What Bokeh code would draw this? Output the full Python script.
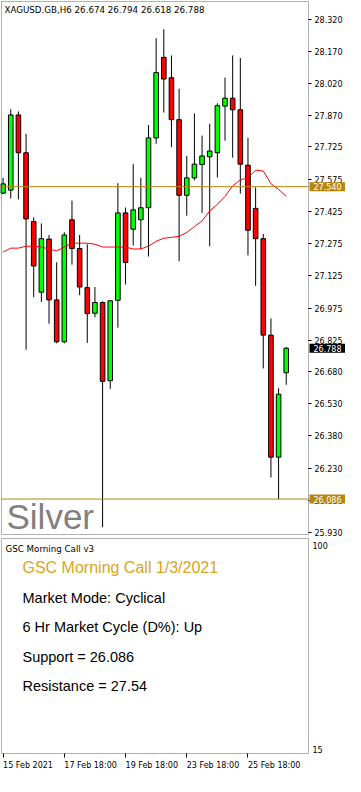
from bokeh.plotting import figure
from bokeh.models import (ColumnDataSource, Range1d, FixedTicker, PrintfTickFormatter,
                          Label, BoxAnnotation)
from bokeh.layouts import column
from bokeh.embed import file_html
from bokeh.resources import INLINE

# ---------------- data ----------------
symbol = "XAGUSD.GB,H6"
times = [
    "2021-02-15 18:00",
    "2021-02-16 00:00", "2021-02-16 06:00", "2021-02-16 12:00", "2021-02-16 18:00",
    "2021-02-17 00:00", "2021-02-17 06:00", "2021-02-17 12:00", "2021-02-17 18:00",
    "2021-02-18 00:00", "2021-02-18 06:00", "2021-02-18 12:00", "2021-02-18 18:00",
    "2021-02-19 00:00", "2021-02-19 06:00", "2021-02-19 12:00", "2021-02-19 18:00",
    "2021-02-22 00:00", "2021-02-22 06:00", "2021-02-22 12:00", "2021-02-22 18:00",
    "2021-02-23 00:00", "2021-02-23 06:00", "2021-02-23 12:00", "2021-02-23 18:00",
    "2021-02-24 00:00", "2021-02-24 06:00", "2021-02-24 12:00", "2021-02-24 18:00",
    "2021-02-25 00:00", "2021-02-25 06:00", "2021-02-25 12:00", "2021-02-25 18:00",
    "2021-02-26 00:00", "2021-02-26 06:00", "2021-02-26 12:00", "2021-02-26 18:00",
    "2021-03-01 00:00",
]
opens = [27.510, 27.524, 27.874, 27.698, 27.378, 27.049, 27.296, 27.013, 26.818, 27.386,
         27.252, 27.070, 26.951, 27.001, 26.637, 27.011, 27.418, 27.342, 27.386, 27.442,
         27.767, 28.142, 28.047, 27.852, 27.500, 27.581, 27.643, 27.679, 27.698, 27.915,
         27.952, 27.898, 27.640, 27.439, 27.298, 26.849, 26.281, 26.674]
highs = [27.581, 27.901, 27.890, 27.786, 27.397, 27.369, 27.315, 27.188, 27.328, 27.475,
         27.315, 27.272, 27.073, 27.006, 27.009, 27.556, 27.443, 27.645, 27.581, 27.827,
         28.231, 28.273, 28.151, 27.996, 27.683, 27.881, 27.778, 27.833, 27.928, 28.048,
         28.151, 28.139, 27.768, 27.537, 27.320, 26.927, 26.602, 26.794]
lows = [27.505, 27.485, 27.481, 26.781, 27.025, 27.003, 26.902, 26.811, 26.811, 27.177,
        27.035, 26.813, 26.932, 25.955, 26.599, 26.884, 27.085, 27.266, 27.249, 27.215,
        27.740, 27.885, 27.724, 27.193, 27.405, 27.570, 27.418, 27.263, 27.583, 27.754,
        27.675, 27.508, 27.220, 27.079, 26.694, 26.186, 26.086, 26.618]
closes = [27.553, 27.874, 27.698, 27.390, 27.171, 27.298, 27.013, 26.818, 27.315, 27.252,
          27.073, 26.949, 27.001, 26.634, 27.009, 27.418, 27.187, 27.432, 27.442, 27.767,
          28.071, 28.041, 27.852, 27.500, 27.581, 27.645, 27.683, 27.706, 27.917, 27.952,
          27.898, 27.645, 27.337, 27.298, 26.849, 26.281, 26.574, 26.788]
ma_values = [27.236, 27.254, 27.254, 27.263, 27.263, 27.259, 27.250, 27.241, 27.259, 27.277,
             27.277, 27.277, 27.272, 27.259, 27.259, 27.259, 27.259, 27.250, 27.250, 27.263,
             27.286, 27.300, 27.304, 27.309, 27.327, 27.354, 27.381, 27.427, 27.458, 27.495,
             27.544, 27.572, 27.581, 27.617, 27.613, 27.554, 27.527, 27.495]

price_ticks = [28.320, 28.170, 28.020, 27.870, 27.725, 27.575, 27.425, 27.275, 27.125,
               26.975, 26.825, 26.680, 26.530, 26.380, 26.230, 26.080, 25.930]
support = 26.086
resistance = 27.540
last_price = closes[-1]
date_tick_idx = [0, 8, 16, 24, 32]
date_tick_text = ["15 Feb 2021", "17 Feb 18:00", "19 Feb 18:00", "23 Feb 18:00", "25 Feb 18:00"]
osc_ticks = [15, 100]
indicator_name = "GSC Morning Call v3"
info_title = "GSC Morning Call 1/3/2021"
info_lines = ["Market Mode: Cyclical", "6 Hr Market Cycle (D%): Up",
              "Support = 26.086", "Resistance = 27.54"]
watermark = "Silver"

# ---------------- geometry / styling ----------------
UP = "#00ff00"
DOWN = "#ff0000"
GOLD = "#b8860b"
AXF = "DejaVu Sans"
TXF = "Liberation Sans"

X_LO, X_HI = -0.21, 39.91          # visible candle window (index units)
P_LO, P_HI = 25.921, 28.402        # visible price window
O_LO, O_HI = 13.38, 102.83         # visible indicator window
CW, AXW = 307, 37                  # candle-area width, price-scale strip width (px)
CH1, CH2 = 533, 215                # panel heights (px)
FW = 1 + CW + AXW
FH1 = 1 + CH1 + 3
FH2 = 1 + CH2 + 23

ppx = CW / (X_HI - X_LO)
ppy1 = CH1 / (P_HI - P_LO)
ppy2 = CH2 / (O_HI - O_LO)
xr = Range1d(X_LO - 1 / ppx, X_HI + AXW / ppx)

x = list(range(len(times)))
src = ColumnDataSource(dict(
    x=x, open=opens, high=highs, low=lows, close=closes,
    top=[max(o, c) for o, c in zip(opens, closes)],
    bottom=[min(o, c) for o, c in zip(opens, closes)],
    color=[UP if c >= o else DOWN for o, c in zip(opens, closes)],
))


def style_common(f):
    f.xgrid.grid_line_color = None
    f.ygrid.grid_line_color = None
    f.outline_line_color = None
    f.background_fill_color = "white"
    f.border_fill_color = "white"


# ---------------- main price panel ----------------
p = figure(frame_width=FW, frame_height=FH1, x_range=xr,
           y_range=Range1d(P_LO - 3 / ppy1, P_HI + 1 / ppy1),
           output_backend="svg", toolbar_location=None,
           y_axis_location="right", x_axis_location=None, min_border=0)
style_common(p)

yax = p.yaxis[0]
yax.fixed_location = X_HI
yax.ticker = FixedTicker(ticks=price_ticks)
yax.formatter = PrintfTickFormatter(format="%.3f")
yax.major_tick_out = 3
yax.major_tick_in = 0
yax.minor_tick_out = 0
yax.minor_tick_in = 0
yax.major_tick_line_color = "black"
yax.major_label_standoff = 3
yax.major_label_text_font = AXF
yax.major_label_text_font_size = "8px"
yax.major_label_text_color = "black"
yax.axis_line_color = None

# candles
p.segment(x0="x", y0="low", x1="x", y1="high", source=src, line_color="black", line_width=1)
p.vbar(x="x", width=0.6, top="top", bottom="bottom", source=src,
       fill_color="color", line_color="black", line_width=1)

# moving average
p.line(x=x, y=ma_values, line_color="#ff0000", line_width=1)

# support / resistance lines
p.segment(x0=[X_LO, X_LO], y0=[resistance, support], x1=[X_HI, X_HI], y1=[resistance, support],
          line_color=GOLD, line_width=1)

# panel border
p.add_layout(BoxAnnotation(left=X_LO, right=X_HI, bottom=P_LO, top=P_HI,
                           fill_alpha=0, line_color="black", line_width=1))

# header & watermark
p.add_layout(Label(x=4, y=FH1 - 9, x_units="screen", y_units="screen",
                   text=f"{symbol}  {opens[-1]:.3f} {highs[-1]:.3f} {lows[-1]:.3f} {closes[-1]:.3f}",
                   text_font=AXF, text_font_size="8.7px", text_color="black",
                   text_baseline="middle", text_align="left"))
p.add_layout(Label(x=6, y=2, x_units="screen", y_units="screen", text=watermark,
                   text_font=TXF, text_font_size="35px", text_color="#808080",
                   text_baseline="bottom", text_align="left"))

# price boxes on the price scale
for val, bg in [(resistance, GOLD), (support, GOLD), (last_price, "black")]:
    p.add_layout(Label(x=X_HI, y=val, x_offset=1, x_units="data", y_units="data",
                       text=f"{val:.3f}", text_font=AXF, text_font_size="8px",
                       text_color="white", background_fill_color=bg,
                       text_baseline="middle", text_align="left",
                       padding=dict(left=4, right=4, top=1, bottom=1)))

# ---------------- lower indicator panel ----------------
q = figure(frame_width=FW, frame_height=FH2, x_range=xr,
           y_range=Range1d(O_LO - 23 / ppy2, O_HI + 1 / ppy2),
           output_backend="svg", toolbar_location=None,
           y_axis_location="right", x_axis_location="below", min_border=0)
style_common(q)

qy = q.yaxis[0]
qy.fixed_location = X_HI
qy.ticker = FixedTicker(ticks=osc_ticks)
qy.major_tick_out = 0
qy.major_tick_in = 0
qy.minor_tick_out = 0
qy.minor_tick_in = 0
qy.major_label_standoff = 4
qy.major_label_text_font = AXF
qy.major_label_text_font_size = "8px"
qy.major_label_text_color = "black"
qy.axis_line_color = None

qx = q.xaxis[0]
qx.fixed_location = O_LO
qx.ticker = FixedTicker(ticks=date_tick_idx)
qx.major_label_overrides = {i: "" for i in date_tick_idx}
qx.major_tick_out = 4
qx.major_tick_in = 0
qx.minor_tick_out = 0
qx.minor_tick_in = 0
qx.major_tick_line_color = "black"
qx.axis_line_color = None

q.add_layout(BoxAnnotation(left=X_LO, right=X_HI, bottom=O_LO, top=O_HI,
                           fill_alpha=0, line_color="black", line_width=1))

for idx, txt in zip(date_tick_idx, date_tick_text):
    q.add_layout(Label(x=idx, y=11, x_units="data", y_units="screen", text=txt,
                       text_font=AXF, text_font_size="8px", text_color="black",
                       text_baseline="middle", text_align="left"))

q.add_layout(Label(x=5, y=FH2 - 11, x_units="screen", y_units="screen",
                   text=indicator_name, text_font=AXF, text_font_size="8.7px",
                   text_color="black", text_baseline="middle", text_align="left"))
q.add_layout(Label(x=22, y=FH2 - 30, x_units="screen", y_units="screen",
                   text=info_title, text_font=TXF, text_font_size="16px",
                   text_color="#daa520", text_baseline="middle", text_align="left"))
for k, line in enumerate(info_lines):
    q.add_layout(Label(x=22, y=FH2 - 60 - 29.5 * k, x_units="screen", y_units="screen",
                       text=line, text_font=TXF, text_font_size="14.5px",
                       text_color="black", text_baseline="middle", text_align="left"))

layout = column(p, q, spacing=0)
open("out.html", "w").write(file_html(layout, INLINE))
